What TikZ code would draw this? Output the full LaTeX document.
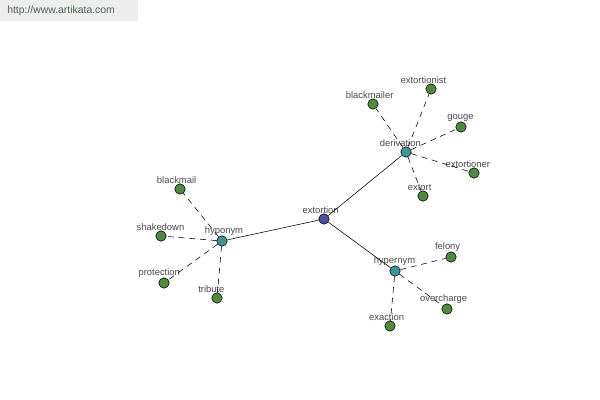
\documentclass[tikz,border=0pt]{standalone}
\usepackage{fontspec}
\setmainfont{Liberation Sans}
\usepackage{xcolor}
\definecolor{rootc}{HTML}{4A4E9C}
\definecolor{relc}{HTML}{3F9696}
\definecolor{leafc}{HTML}{4F8A3F}
\definecolor{textc}{HTML}{4A4A4A}
\definecolor{bannerc}{HTML}{EDEDED}
\definecolor{urlc}{HTML}{4E6650}
\tikzset{
  word/.style={circle, draw=black, line width=0.4pt, minimum size=7.4pt, inner sep=0pt},
  root/.style={word, fill=rootc},
  rel/.style={word, fill=relc},
  leaf/.style={word, fill=leafc},
  lbl/.style={text=textc, font=\fontsize{6.7}{8}\selectfont, inner sep=0.5pt, yshift=-0.8pt, xshift=-2.4pt},
  solidlink/.style={draw=black, line width=0.4pt},
  dashlink/.style={draw=black, line width=0.4pt, dash pattern=on 4.2pt off 3.4pt},
}

\begin{document}
\begin{tikzpicture}[x=0.025cm, y=-0.025cm]
\useasboundingbox (0,0) rectangle (600,400);
\fill[white] (0,0) rectangle (600,400);
\fill[bannerc] (0,0) rectangle (138,21);
\node[text=urlc, font=\fontsize{7.4}{9}\selectfont, anchor=west, inner sep=0pt] (url) at (7,11) {http://www.artikata.com};
% centre and relations
\node[root, label={[lbl]above:extortion}] (extortion) at (324,219) {};
\node[rel, label={[lbl, xshift=3.8pt]above:hyponym}] (hyponym) at (222,241) {};
\node[rel, label={[lbl, xshift=-1.6pt]above:derivation}] (derivation) at (406,152) {};
\node[rel, label={[lbl, xshift=2pt]above:hypernym}] (hypernym) at (395,271) {};
% leaves
\node[leaf, label={[lbl]above:blackmail}] (blackmail) at (180,189) {};
\node[leaf, label={[lbl, xshift=2pt]above:shakedown}] (shakedown) at (161,236) {};
\node[leaf, label={[lbl, xshift=-1pt]above:protection}] (protection) at (164,283) {};
\node[leaf, label={[lbl, xshift=-1.6pt]above:tribute}] (tribute) at (217,298) {};
\node[leaf, label={[lbl]above:blackmailer}] (blackmailer) at (373,104) {};
\node[leaf, label={[lbl, xshift=-3pt]above:extortionist}] (extortionist) at (431,89) {};
\node[leaf, label={[lbl, xshift=2pt]above:gouge}] (gouge) at (461,127) {};
\node[leaf, label={[lbl, xshift=-2pt]above:extortioner}] (extortioner) at (474,173) {};
\node[leaf, label={[lbl]above:extort}] (extort) at (423,196) {};
\node[leaf, label={[lbl]above:felony}] (felony) at (451,257) {};
\node[leaf, label={[lbl]above:overcharge}] (overcharge) at (447,309) {};
\node[leaf, label={[lbl]above:exaction}] (exaction) at (390,326) {};
% links
\draw[solidlink] (extortion) -- (hyponym);
\draw[solidlink] (extortion) -- (derivation);
\draw[solidlink] (extortion) -- (hypernym);
\foreach \w in {blackmail,shakedown,protection,tribute}
  \draw[dashlink] (hyponym) -- (\w);
\foreach \w in {blackmailer,extortionist,gouge,extortioner,extort}
  \draw[dashlink] (derivation) -- (\w);
\foreach \w in {felony,overcharge,exaction}
  \draw[dashlink] (hypernym) -- (\w);
\end{tikzpicture}
\end{document}
